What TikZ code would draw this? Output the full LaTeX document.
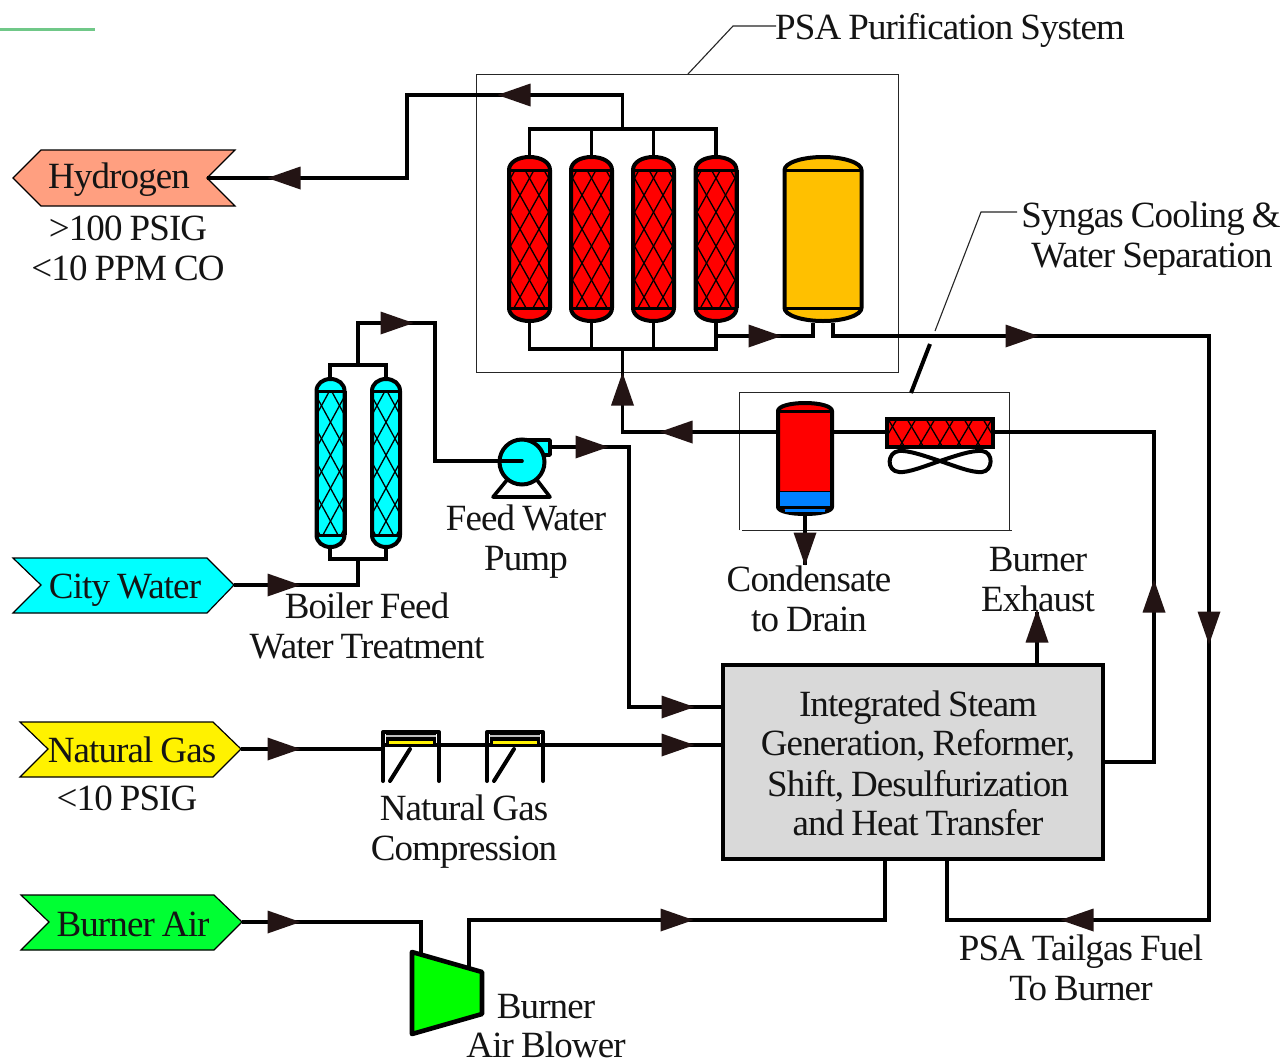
\documentclass[tikz,border=0pt]{standalone}
\usepackage{fontspec}
\setmainfont[LetterSpace=-2.4,WordSpace=0.85]{Liberation Serif}
\definecolor{headc}{HTML}{231414}
\definecolor{vred}{HTML}{FF0000}
\definecolor{vamber}{HTML}{FFC000}
\definecolor{vcyan}{HTML}{00FFFF}
\definecolor{vblue}{HTML}{0080FF}
\definecolor{tagH}{HTML}{FF9F80}
\definecolor{tagG}{HTML}{00FF33}
\definecolor{boxg}{HTML}{D9D9D9}
\definecolor{stray}{HTML}{70C888}
\definecolor{blowg}{HTML}{00FF00}
\tikzset{
  pipe/.style={draw=black,line width=3.9pt,line join=miter},
  thin box/.style={draw=black!85,line width=1pt},
  lead/.style={draw=black!85,line width=1.1pt},
  ves/.style={draw=black,line width=4pt,line join=round},
  tag/.style={draw=black,line width=1.2pt,line join=miter},
  lbl/.style={anchor=base,inner sep=0pt,font=\fontsize{37}{40}\selectfont,text=black!92},
  hatchline/.style={draw=black,line width=1.3pt},
  head/.style={fill=headc,draw=none}
}
% arrowhead centred at x,y pointing along angle
\newcommand{\ahead}[3]{\fill[head,shift={(#1,#2)},rotate=#3] (-16.5,-11.5)--(16.5,0)--(-16.5,11.5)--cycle;}
% crossing lines inside rectangle x1 y1 x2 y2 with horizontal period #5 and height #6
\newcommand{\hatchbox}[7]{%
 \begin{scope}
 \clip (#1,#2) rectangle (#3,#4);
 \pgfmathsetmacro{\hrun}{(#4-#2)*#5/#6}
 \foreach \kk in {-8,...,14}{
   \pgfmathsetmacro{\xa}{#1+\kk*#5+#7}
   \pgfmathsetmacro{\xb}{\xa+\hrun}
   \pgfmathsetmacro{\xc}{#3-\kk*#5-#7}
   \pgfmathsetmacro{\xd}{\xc-\hrun}
   \draw[hatchline] (\xa,#2)--(\xb,#4);
   \draw[hatchline] (\xc,#2)--(\xd,#4);
 }
 \end{scope}}
% vessel: cx hw top yT yB bot fill k
\newcommand{\vessel}[8]{%
 \pgfmathsetmacro{\lx}{#1-#2}\pgfmathsetmacro{\rx}{#1+#2}
 \pgfmathsetmacro{\tcy}{#4-#8*(#4-#3)}\pgfmathsetmacro{\bcy}{#5+#8*(#6-#5)}
 \pgfmathsetmacro{\clx}{#1-0.55*#2}\pgfmathsetmacro{\crx}{#1+0.55*#2}
 \path[ves,fill=#7] (\lx,#4)--(\lx,#5) .. controls (\lx,\bcy) and (\clx,#6) .. (#1,#6)
   .. controls (\crx,#6) and (\rx,\bcy) .. (\rx,#5)--(\rx,#4)
   .. controls (\rx,\tcy) and (\crx,#3) .. (#1,#3)
   .. controls (\clx,#3) and (\lx,\tcy) .. (\lx,#4)--cycle;}
\begin{document}
\begin{tikzpicture}[x=1pt,y=-1pt]
\useasboundingbox (0,0) rectangle (1287,1063);
\fill[white] (0,0) rectangle (1287,1063);
\draw[stray,line width=3pt] (0,29)--(95,29);

% named junctions
\coordinate (hPort) at (207,178);
\coordinate (hA) at (407,178);
\coordinate (hB) at (407,95);
\coordinate (hC) at (622.5,95);
\coordinate (topHdr) at (622.5,129);
\coordinate (botHdr) at (622.5,349);
\coordinate (sepJ) at (622.5,432);
\coordinate (sepL) at (776,432);
\coordinate (sepR) at (834,432);
\coordinate (clL) at (886,432);
\coordinate (clR) at (994,432);
\coordinate (synA) at (1154,432);
\coordinate (synB) at (1154,762);
\coordinate (boxR) at (1103,762);
\coordinate (tailA) at (833,323);
\coordinate (tailB) at (833,336);
\coordinate (tailC) at (1209,336);
\coordinate (tailD) at (1209,920);
\coordinate (tailE) at (947,920);
\coordinate (tailF) at (947,859);
\coordinate (a4A) at (716,336);
\coordinate (a4B) at (813,336);
\coordinate (a4C) at (813,323);
\coordinate (cwPort) at (234,585);
\coordinate (cwA) at (358,585);
\coordinate (cwB) at (358,559);
\coordinate (trT) at (358,365);
\coordinate (trA) at (358,323);
\coordinate (trB) at (435,323);
\coordinate (trC) at (435,461);
\coordinate (pmpIn) at (522,461);
\coordinate (pmpOut) at (550,447);
\coordinate (fwA) at (629,447);
\coordinate (fwB) at (629,707);
\coordinate (boxFW) at (723,707);
\coordinate (ngPort) at (241,749);
\coordinate (cmpL) at (383,749);
\coordinate (cmpM) at (439,745);
\coordinate (cmpN) at (487,745);
\coordinate (cmpR) at (543,745);
\coordinate (boxNG) at (723,745);
\coordinate (baPort) at (242,922);
\coordinate (baA) at (421,922);
\coordinate (baB) at (421,956);
\coordinate (blA) at (469,968);
\coordinate (blB) at (469,920);
\coordinate (blC) at (885,920);
\coordinate (blD) at (885,859);
\coordinate (exA) at (1037,665);
\coordinate (exB) at (1037,612);
\coordinate (drA) at (805,515);
\coordinate (drB) at (805,565);

% boxes and leaders
\draw[thin box] (476,74) rectangle (898,372);
\draw[lead] (688,74)--(733,26)--(776,26);
\draw[thin box] (739,530)--(739,392)--(1009,392)--(1009,530);
\draw[thin box] (742,530)--(1012,530);
\draw[lead] (935,331)--(981,212)--(1017,212);
\draw[black,line width=4pt] (930,344)--(911,393);

% pipes
\draw[pipe] (hPort)--(hA)--(hB)--(hC)--(topHdr);
\draw[pipe] (529.5,155)--(529.5,129)--(716,129)--(716,155);
\draw[pipe] (591.5,155)--(591.5,129);
\draw[pipe] (653.5,155)--(653.5,129);
\draw[pipe] (529.5,323)--(529.5,349)--(716,349)--(716,323);
\draw[pipe] (591.5,323)--(591.5,349);
\draw[pipe] (653.5,323)--(653.5,349);
\draw[pipe] (botHdr)--(sepJ)--(sepL);
\draw[pipe] (sepR)--(clL);
\draw[pipe] (clR)--(synA)--(synB)--(boxR);
\draw[pipe] (a4A)--(a4B)--(a4C);
\draw[pipe] (tailA)--(tailB)--(tailC)--(tailD)--(tailE)--(tailF);
\draw[pipe] (cwPort)--(cwA)--(cwB);
\draw[pipe] (330,548)--(330,559)--(386,559)--(386,548);
\draw[pipe] (330,377)--(330,365)--(386,365)--(386,377);
\draw[pipe] (trT)--(trA)--(trB)--(trC)--(pmpIn);
\draw[pipe] (pmpOut)--(fwA)--(fwB)--(boxFW);
\draw[pipe] (ngPort)--(cmpL);
\draw[pipe] (cmpM)--(cmpN);
\draw[pipe] (cmpR)--(boxNG);
\draw[pipe] (baPort)--(baA)--(baB);
\draw[pipe] (blA)--(blB)--(blC)--(blD);
\draw[pipe] (exA)--(exB);
\draw[pipe] (drA)--(drB);

% adsorbers
\foreach \cx in {529.5,591.5,653.5,716}{
  \vessel{\cx}{20.5}{157}{170}{308}{321}{vred}{0.6}
  \pgfmathsetmacro{\ha}{\cx-20}\pgfmathsetmacro{\hb}{\cx+20}
  \hatchbox{\ha}{171}{\hb}{309}{19}{34}{-3}
  \pgfmathsetmacro{\la}{\cx-20.5}\pgfmathsetmacro{\lb}{\cx+20.5}
  \draw[black,line width=3pt] (\la,170)--(\lb,170);
  \draw[black,line width=3pt] (\la,308)--(\lb,308);
  \draw[black,line width=4pt] (\la,170)--(\la,308);
  \draw[black,line width=4pt] (\lb,170)--(\lb,308);
}
% amber vessel
\vessel{823}{38.5}{157}{170}{308}{321}{vamber}{0.55}
\draw[black,line width=3pt] (784.5,170)--(861.5,170);
\draw[black,line width=3pt] (784.5,308)--(861.5,308);

% treaters
\foreach \cx in {330.5,386}{
  \vessel{\cx}{14}{379}{391}{535}{547}{vcyan}{0.6}
  \pgfmathsetmacro{\ha}{\cx-13}\pgfmathsetmacro{\hb}{\cx+13}
  \hatchbox{\ha}{391}{\hb}{535}{18}{33}{-4}
  \pgfmathsetmacro{\la}{\cx-14}\pgfmathsetmacro{\lb}{\cx+14}
  \draw[black,line width=3pt] (\la,391)--(\lb,391);
  \draw[black,line width=3pt] (\la,535)--(\lb,535);
  \draw[black,line width=4pt] (\la,391)--(\la,535);
  \draw[black,line width=4pt] (\lb,391)--(\lb,535);
}

% separator
\vessel{805}{27}{403}{411}{507}{514}{vred}{0.6}
\fill[vblue] (778,491) rectangle (832,507);
\fill[vblue] (785,508) rectangle (825,512);
\draw[black,line width=1pt] (778,491)--(832,491);
\draw[black,line width=3pt] (778,411)--(832,411);
\draw[black,line width=3pt] (778,507)--(832,507);
\draw[black,line width=4pt] (778,411)--(778,507);
\draw[black,line width=4pt] (832,411)--(832,507);

% cooler and fan
\fill[vred] (888,419) rectangle (992,446);
\hatchbox{888}{419}{992}{446}{19}{32}{0}
\draw[black,line width=4pt] (887,419) rectangle (993,447);
\draw[black,line width=4pt,line join=round] (940,461)
  .. controls (925,456) and (908,450) .. (899,451)
  .. controls (887,452) and (886,471) .. (899,472)
  .. controls (908,473) and (925,466) .. (940,461)
  .. controls (955,456) and (972,450) .. (982,451)
  .. controls (994,452) and (993,471) .. (982,472)
  .. controls (972,473) and (955,466) .. (940,461)--cycle;

% pump
\draw[black,line width=3.6pt,line join=round] (507,480)--(493,497)--(550,497)--(537,480);
\path[draw=black,line width=3.6pt,fill=vcyan,line join=round] (522,440)--(550,440)--(550,455)--(540,455)--(530,445)--cycle;
\draw[black,line width=4pt,fill=vcyan] (522,462) circle (22.5);
\draw[black,line width=3.6pt,line cap=round] (490,461)--(pmpIn);

% compressors
\foreach \xl/\xr/\sa/\sb in {383/439/410/390,487/543/514/494}{
  \draw[black,line width=4pt,line cap=round,line join=round] (\xl,781)--(\xl,732)--(\xr,732)--(\xr,781);
  \draw[black,line width=4pt] (\xl,745)--(\xr,745);
  \draw[black,line width=4pt,line cap=round] (\sa,749)--(\sb,781);
  \pgfmathsetmacro{\wa}{\xl+3}\pgfmathsetmacro{\wb}{\xr-3}
  \fill[black] (\wa,734) rectangle (\wb,745);
  \draw[white!75!black,line width=2pt] (\wa,735.5)--(\wb,735.5);
  \pgfmathsetmacro{\ya}{\xl+6}\pgfmathsetmacro{\yb}{\xr-6}
  \draw[yellow,line width=2.4pt] (\ya,742.5)--(\yb,742.5);
}

% blower
\draw[black,line width=4.6pt,fill=blowg,line join=round] (412,952)--(482,972)--(482,1014)--(412,1034)--cycle;

% main box
\draw[black,line width=4pt,fill=boxg] (723,665) rectangle (1103,859);

% tags
\path[tag,fill=tagH] (13,178)--(41,150)--(235,150)--(207,178)--(235,206)--(41,206)--cycle;
\path[tag,fill=vcyan] (13,558)--(207,558)--(234,585)--(207,613)--(13,613)--(41,585)--cycle;
\path[tag,fill=yellow] (20,722)--(213,722)--(241,749)--(213,777)--(20,777)--(48,749)--cycle;
\path[tag,fill=tagG] (21,895)--(214,895)--(242,922)--(214,950)--(21,950)--(49,922)--cycle;
\draw[pipe] (hPort)--(268,178);

% arrowheads
\ahead{514}{95}{180}
\ahead{284}{178}{180}
\ahead{765}{336}{0}
\ahead{1022}{336}{0}
\ahead{622.5}{389}{90}
\ahead{676}{432}{180}
\ahead{1154}{596}{90}
\ahead{1209}{628}{-90}
\ahead{1077}{920}{180}
\ahead{397}{323}{0}
\ahead{284}{585}{0}
\ahead{592}{447}{0}
\ahead{678}{707}{0}
\ahead{284}{749}{0}
\ahead{678}{745}{0}
\ahead{284}{922}{0}
\ahead{677}{920}{0}
\ahead{1037}{626}{90}
\ahead{805}{549}{-90}

% labels
\node[lbl] (tHyd) at (119,188) {Hydrogen};
\node[lbl] (tHyd2) at (128,240) {>100 PSIG};
\node[lbl] (tHyd3) at (128,280) {<10 PPM CO};
\node[lbl] (tCW) at (125,598) {City Water};
\node[lbl] (tBF1) at (367,618) {Boiler Feed};
\node[lbl] (tBF2) at (367,658) {Water Treatment};
\node[lbl] (tFW1) at (526,530) {Feed Water};
\node[lbl] (tFW2) at (526,570) {Pump};
\node[lbl] (tNG) at (132,762) {Natural Gas};
\node[lbl] (tNG2) at (127,810) {<10 PSIG};
\node[lbl] (tNC1) at (464,820) {Natural Gas};
\node[lbl] (tNC2) at (464,860) {Compression};
\node[lbl] (tBA) at (133,936) {Burner Air};
\node[lbl] (tBB1) at (546,1018) {Burner};
\node[lbl] (tBB2) at (546,1057) {Air Blower};
\node[lbl] (tPSA) at (950,39) {PSA Purification System};
\node[lbl] (tSy1) at (1151,227) {Syngas Cooling \&};
\node[lbl] (tSy2) at (1152,267) {Water Separation};
\node[lbl] (tCo1) at (809,591) {Condensate};
\node[lbl] (tCo2) at (809,631) {to Drain};
\node[lbl] (tEx1) at (1038,571) {Burner};
\node[lbl] (tEx2) at (1038,611) {Exhaust};
\node[lbl] (tB1) at (918,716) {Integrated Steam};
\node[lbl] (tB2) at (918,755) {Generation, Reformer,};
\node[lbl] (tB3) at (918,796) {Shift, Desulfurization};
\node[lbl] (tB4) at (918,835) {and Heat Transfer};
\node[lbl] (tTG1) at (1081,960) {PSA Tailgas Fuel};
\node[lbl] (tTG2) at (1081,1000) {To Burner};
\end{tikzpicture}
\end{document}
